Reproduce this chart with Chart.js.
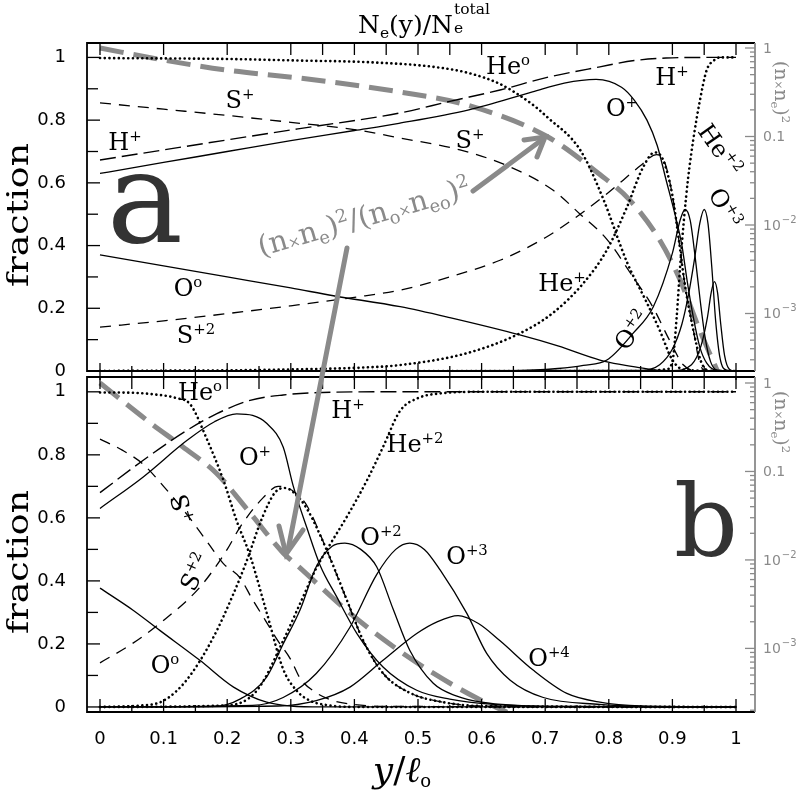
<!DOCTYPE html>
<html><head><meta charset="utf-8">
<script src="https://cdn.jsdelivr.net/npm/chart.js@4.4.1/dist/chart.umd.min.js"></script>
<style>
html,body{margin:0;padding:0;background:#fff}
body{width:797px;height:797px;position:relative;overflow:hidden}
canvas{position:absolute;left:0}
.t{position:absolute;white-space:nowrap;line-height:1;font-family:'DejaVu Serif',serif;color:#000;transform-origin:50% 50%}
.lab{font-size:24px}
.t sup{font-size:.62em;vertical-align:.6em;line-height:0}
.t sub{font-size:.62em;vertical-align:-.3em;line-height:0}
.gray{color:#8a8a8a}
</style>
</head><body>
<canvas id="ca" width="797" height="410" style="top:0"></canvas>
<canvas id="cb" width="797" height="467" style="top:330px"></canvas>
<svg id="ov" width="797" height="797" style="position:absolute;left:0;top:0" xmlns="http://www.w3.org/2000/svg">
  <g stroke="#8a8a8a" stroke-width="5" stroke-linecap="round" fill="none">
    <line x1="473" y1="191" x2="543" y2="139"/>
    <polyline points="524,140 545,137 537,157"/>
    <line x1="347" y1="248" x2="288" y2="550"/>
    <polyline points="279,526 286,554 303,530"/>
  </g>
</svg>
<script>
// ---------- axis tick labels ----------
const xTickLabels   = ['0','0.1','0.2','0.3','0.4','0.5','0.6','0.7','0.8','0.9','1'];
const fracTickLabels = ['0','0.2','0.4','0.6','0.8','1'];
const logTickLabels  = ['10^\u22123','10^\u22122','0.1','1'];
// unlabelled ticks of the top N_e(y)/N_e^total axis of panel a (in y/l0 units)
const aTopTickVals = [0,0.1,0.2,0.3,0.35,0.4,0.45,0.5,0.55,0.6,0.7,0.75,0.8,0.9,0.95,1];

// ---------- panel a (fractions vs y/l0) ----------
const aHe0X = [0,0.2,0.314,0.42,0.524,0.58,0.629,0.68,0.703,0.755,0.79,0.829,0.86,0.88,0.9,0.92,1];
const aHe0Y = [0.998,0.995,0.99,0.985,0.97,0.95,0.915,0.85,0.81,0.705,0.555,0.345,0.217,0.13,0.035,0.003,0];
const aHe1X = [0,0.1,0.2,0.3,0.4,0.472,0.577,0.66,0.712,0.76,0.797,0.828,0.854,0.872,0.885,0.9,0.91,0.92,0.933,0.945,0.96,1];
const aHe1Y = [0,0.001,0.002,0.005,0.01,0.019,0.057,0.12,0.185,0.28,0.386,0.52,0.65,0.697,0.675,0.56,0.42,0.27,0.13,0.03,0,0];
const aHe2X = [0,0.85,0.89,0.9,0.907,0.912,0.918,0.925,0.933,0.943,0.954,0.965,0.975,1];
const aHe2Y = [0,0,0.005,0.03,0.18,0.33,0.48,0.62,0.74,0.86,0.96,0.99,1,1];
const aHpX  = [0,0.1,0.2,0.314,0.472,0.55,0.629,0.7,0.786,0.84,0.89,0.95,1];
const aHpY  = [0.673,0.705,0.737,0.773,0.823,0.86,0.896,0.935,0.97,0.99,0.998,1,1];
const aSpX  = [0,0.1,0.2,0.3,0.4,0.472,0.566,0.64,0.712,0.755,0.797,0.838,0.869,0.895,0.917,0.94,1];
const aSpY  = [0.855,0.835,0.815,0.793,0.77,0.743,0.705,0.655,0.577,0.5,0.42,0.3,0.205,0.1,0.02,0,0];
const aS2X  = [0,0.1,0.2,0.3,0.4,0.472,0.55,0.63,0.7,0.755,0.8,0.85,0.875,0.888,0.9,0.91,0.92,0.933,0.943,0.955,1];
const aS2Y  = [0.14,0.16,0.183,0.208,0.235,0.258,0.3,0.354,0.425,0.5,0.57,0.655,0.69,0.665,0.56,0.42,0.27,0.13,0.025,0,0];
const aO0X  = [0,0.1,0.2,0.3,0.367,0.472,0.55,0.66,0.72,0.786,0.82,0.85,0.88,1];
const aO0Y  = [0.37,0.335,0.3,0.265,0.24,0.205,0.17,0.115,0.08,0.035,0.02,0.01,0.002,0];
const aOpX  = [0,0.1,0.2,0.3,0.4,0.47,0.58,0.68,0.73,0.78,0.82,0.84,0.86,0.876,0.89,0.904,0.915,0.923,0.933,0.943,0.954,0.97,1];
const aOpY  = [0.63,0.665,0.7,0.735,0.767,0.79,0.833,0.89,0.918,0.93,0.905,0.864,0.8,0.72,0.61,0.5,0.4,0.29,0.17,0.077,0.025,0.002,0];
const aO2X  = [0,0.65,0.72,0.76,0.797,0.838,0.87,0.9,0.912,0.92,0.928,0.936,0.944,0.952,0.96,0.97,1];
const aO2Y  = [0,0.001,0.008,0.018,0.035,0.12,0.205,0.376,0.48,0.515,0.48,0.36,0.22,0.1,0.03,0.003,0];
const aO3X  = [0,0.85,0.88,0.9,0.915,0.925,0.935,0.943,0.95,0.956,0.962,0.968,0.975,0.985,1];
const aO3Y  = [0,0.002,0.02,0.07,0.15,0.24,0.36,0.47,0.515,0.47,0.33,0.16,0.04,0.003,0];
const aO4X  = [0,0.9,0.93,0.945,0.955,0.961,0.966,0.971,0.976,0.982,0.99,1];
const aO4Y  = [0,0.001,0.02,0.08,0.17,0.25,0.285,0.25,0.15,0.05,0.005,0];
// (n_x n_e)^2/(n_o n_eo)^2, right log axis
const aRatX = [0,0.1,0.2,0.314,0.472,0.577,0.703,0.786,0.833,0.88,0.912,0.943,0.975];
const aRatY = [1,0.731,0.562,0.457,0.318,0.227,0.1,0.0372,0.0191,0.00676,0.0024,0.000646,0.000191];

// ---------- panel b ----------
const bHe0X = [0,0.05,0.08,0.12,0.142,0.168,0.194,0.215,0.236,0.262,0.288,0.31,0.33,0.36,0.4,1];
const bHe0Y = [0.998,0.997,0.993,0.98,0.96,0.85,0.72,0.59,0.48,0.3,0.12,0.05,0.02,0.005,0,0];
const bHe1X = [0,0.06,0.1,0.136,0.178,0.21,0.23,0.255,0.275,0.29,0.305,0.325,0.356,0.388,0.414,0.445,0.487,0.54,0.6,1];
const bHe1Y = [0,0.004,0.02,0.085,0.22,0.36,0.46,0.6,0.68,0.695,0.68,0.63,0.5,0.34,0.21,0.107,0.045,0.015,0.003,0];
const bHe2X = [0,0.2,0.247,0.288,0.315,0.34,0.36,0.39,0.42,0.445,0.472,0.5,0.535,0.6,1];
const bHe2Y = [0,0.005,0.053,0.21,0.33,0.44,0.51,0.61,0.72,0.825,0.94,0.98,0.995,1,1];
const bHpX  = [0,0.068,0.137,0.183,0.236,0.288,0.35,0.45,1];
const bHpY  = [0.68,0.783,0.878,0.93,0.973,0.99,0.998,1,1];
const bSpX  = [0,0.035,0.068,0.1,0.137,0.17,0.194,0.22,0.24,0.26,0.278,0.3,0.315,0.34,0.367,0.4,0.45,1];
const bSpY  = [0.85,0.815,0.77,0.7,0.61,0.52,0.455,0.41,0.34,0.275,0.215,0.15,0.09,0.045,0.02,0.008,0.002,0];
const bS2X  = [0,0.05,0.094,0.157,0.2,0.22,0.257,0.28,0.295,0.31,0.325,0.356,0.388,0.414,0.445,0.487,0.54,0.6,1];
const bS2Y  = [0.14,0.2,0.265,0.38,0.5,0.57,0.665,0.7,0.695,0.675,0.64,0.5,0.34,0.21,0.107,0.045,0.015,0.003,0];
const bO0X  = [0,0.052,0.094,0.157,0.21,0.262,0.3,0.35,1];
const bO0Y  = [0.377,0.307,0.243,0.148,0.063,0.015,0.003,0,0];
const bOpX  = [0,0.068,0.137,0.18,0.215,0.24,0.262,0.288,0.304,0.325,0.346,0.372,0.404,0.445,0.498,0.55,0.62,0.7,1];
const bOpY  = [0.63,0.73,0.846,0.905,0.93,0.925,0.9,0.825,0.7,0.57,0.45,0.35,0.233,0.127,0.053,0.025,0.008,0.002,0];
const bO2X  = [0,0.18,0.22,0.262,0.288,0.315,0.34,0.365,0.385,0.41,0.435,0.461,0.487,0.524,0.56,0.6,0.7,1];
const bO2Y  = [0,0.002,0.025,0.095,0.2,0.31,0.445,0.51,0.52,0.5,0.445,0.31,0.18,0.075,0.035,0.015,0.002,0];
const bO3X  = [0,0.24,0.288,0.34,0.393,0.435,0.465,0.487,0.51,0.535,0.577,0.608,0.645,0.697,0.786,0.85,1];
const bO3Y  = [0,0.005,0.03,0.106,0.253,0.42,0.5,0.52,0.5,0.434,0.296,0.17,0.085,0.03,0.008,0.002,0];
const bO4X  = [0,0.28,0.34,0.393,0.445,0.498,0.53,0.563,0.595,0.629,0.681,0.734,0.786,0.85,1];
const bO4Y  = [0,0.003,0.02,0.063,0.148,0.233,0.27,0.29,0.265,0.21,0.117,0.043,0.015,0.003,0];
const bRatX = [0,0.079,0.13,0.183,0.236,0.288,0.31,0.393,0.461,0.524,0.59,0.64];
const bRatY = [1,0.355,0.19,0.0955,0.0339,0.012,0.0087,0.0025,0.00105,0.000525,0.00028,0.00019];

// ---------- styles ----------
const SOLID = {borderColor:'#000', borderWidth:1.3};
const HDASH = {borderColor:'#000', borderWidth:1.4, borderDash:[16,6]};
const SDASH = {borderColor:'#000', borderWidth:1.3, borderDash:[11,8]};
const DOT   = {borderColor:'#000', borderWidth:2.6, borderDash:[0.1,4.6], borderCapStyle:'round'};
const GRAY  = {borderColor:'#8a8a8a', borderWidth:5, borderDash:[24,10]};

const pts = (xs, ys) => xs.map((x, i) => ({x, y: ys[i]}));
const ds = (xs, ys, st, axis) => Object.assign({data: pts(xs, ys), yAxisID: axis || 'y', pointRadius: 0,
  fill: false, cubicInterpolationMode: 'monotone'}, st);

const XMIN = -13/636, XMAX = 1 + 19/636;
const xTickVals = []; for (let i = 0; i <= 20; i++) xTickVals.push(i / 20);
const yTickVals = []; for (let i = 0; i <= 10; i++) yTickVals.push(i / 10);
function logTickVals(min, max) {
  const v = [];
  for (let e = -4; e <= 0; e++) for (let m = 1; m <= 9; m++) {
    const val = m * Math.pow(10, e);
    if (val >= min * 0.999 && val <= max * 1.001) v.push(val);
  }
  return v;
}
const isDecade = v => Math.abs(Math.log10(v) - Math.round(Math.log10(v))) < 1e-6;

const framePlugin = {
  id: 'frame',
  afterDatasetsDraw(chart, args, o) {
    const c = chart.ctx, a = chart.chartArea, S = chart.scales;
    c.save();
    c.lineWidth = 1.3; c.strokeStyle = '#000';
    const vline = (x, y1, y2) => { c.beginPath(); c.moveTo(x, y1); c.lineTo(x, y2); c.stroke(); };
    const hline = (y, x1, x2) => { c.beginPath(); c.moveTo(x1, y); c.lineTo(x2, y); c.stroke(); };
    S.x.ticks.forEach(t => {
      const p = S.x.getPixelForValue(t.value);
      const maj = Math.abs(t.value * 10 - Math.round(t.value * 10)) < 1e-6;
      if (o.bottomTicks === 'cross') vline(p, a.bottom - (maj ? 8 : 5), a.bottom + (maj ? 9 : 6));
      else vline(p, a.bottom - (maj ? 13 : 7), a.bottom);
    });
    (o.topTicks || xTickVals).forEach(v => {
      const p = S.xt.getPixelForValue(v);
      vline(p, a.top, a.top + 12);
    });
    S.y.ticks.forEach(t => {
      if (t.value > S.y.max) return;
      const p = S.y.getPixelForValue(t.value);
      const maj = Math.round(t.value * 10) % 2 === 0;
      hline(p, a.left, a.left + (maj ? 13 : 11));
    });
    // right log axis: ticks and labels
    c.strokeStyle = '#8a8a8a'; c.fillStyle = '#8a8a8a';
    c.textBaseline = 'middle'; c.textAlign = 'left';
    S.y2.ticks.forEach(t => {
      const p = S.y2.getPixelForValue(t.value);
      if (p < a.top - 0.5 || p > a.bottom + 0.5) return;
      const dec = isDecade(t.value);
      hline(p, a.right - (dec ? 10 : 5), a.right);
      if (dec) {
        const lab = logTickLabels[Math.round(Math.log10(t.value)) + 3];
        const [base, ex] = lab.split('^');
        c.font = '14px "DejaVu Sans"';
        c.fillText(base, a.right + 8, p + 1);
        if (ex) {
          const w = c.measureText(base).width;
          c.font = '10px "DejaVu Sans"';
          c.fillText(ex, a.right + 9 + w, p - 5);
        }
      }
    });
    c.lineWidth = 1.8;
    c.strokeStyle = '#000';
    c.beginPath(); c.moveTo(a.right, a.top); c.lineTo(a.left, a.top); c.lineTo(a.left, a.bottom); c.lineTo(a.right, a.bottom); c.stroke();
    c.strokeStyle = '#8a8a8a';
    vline(a.right, a.top, a.bottom);
    c.restore();
  }
};

function makeChart(id, datasets, o) {
  const logMin = o.logMin, logMax = o.logMax;
  return new Chart(document.getElementById(id), {
    type: 'line',
    data: {datasets},
    options: {
      responsive: false, animation: false, devicePixelRatio: 1,
      layout: {padding: 0},
      plugins: {legend: {display: false}, tooltip: {enabled: false}, frame: o.frame},
      scales: {
        x: {type: 'linear', position: 'bottom', min: XMIN, max: XMAX,
            afterBuildTicks: s => { s.ticks = xTickVals.map(v => ({value: v})); },
            ticks: {display: o.xLabels, autoSkip: false, maxRotation: 0, padding: 9, color: '#000',
                    font: {family: 'DejaVu Sans', size: 18},
                    callback: v => { const i = Math.round(v * 10); return Math.abs(v * 10 - i) < 1e-6 ? xTickLabels[i] : ''; }},
            grid: {display: false}, border: {display: false},
            afterFit: s => { s.height = o.xH; }},
        xt: {type: 'linear', position: 'top', min: XMIN, max: XMAX,
             ticks: {display: false}, grid: {display: false}, border: {display: false},
             afterFit: s => { s.height = o.topH; }},
        y: {type: 'linear', position: 'left', min: o.yMin, max: o.yMax,
            afterBuildTicks: s => { s.ticks = yTickVals.map(v => ({value: v})); },
            ticks: {autoSkip: false, padding: 13, color: '#000', font: {family: 'DejaVu Sans', size: 18},
                    callback: v => { const i = Math.round(v * 10); return i % 2 === 0 ? fracTickLabels[i / 2] : ''; }},
            grid: {display: false}, border: {display: false},
            afterFit: s => { s.width = 87; }},
        y2: {type: 'logarithmic', position: 'right', min: logMin, max: logMax,
             afterBuildTicks: s => { s.ticks = logTickVals(logMin, logMax).map(v => ({value: v})); },
             ticks: {display: false, autoSkip: false},
             grid: {display: false}, border: {display: false},
             afterFit: s => { s.width = 42; }}
      }
    },
    plugins: [framePlugin]
  });
}

const dsA = [
  ds(aHe0X, aHe0Y, DOT), ds(aHe1X, aHe1Y, DOT), ds(aHe2X, aHe2Y, DOT),
  ds(aHpX, aHpY, HDASH), ds(aSpX, aSpY, SDASH), ds(aS2X, aS2Y, SDASH),
  ds(aO0X, aO0Y, SOLID), ds(aOpX, aOpY, SOLID), ds(aO2X, aO2Y, SOLID), ds(aO3X, aO3Y, SOLID), ds(aO4X, aO4Y, SOLID),
  ds(aRatX, aRatY, GRAY, 'y2')
];
const dsB = [
  ds(bHe0X, bHe0Y, DOT), ds(bHe1X, bHe1Y, DOT), ds(bHe2X, bHe2Y, DOT),
  ds(bHpX, bHpY, HDASH), ds(bSpX, bSpY, SDASH), ds(bS2X, bS2Y, SDASH),
  ds(bO0X, bO0Y, SOLID), ds(bOpX, bOpY, SOLID), ds(bO2X, bO2Y, SOLID), ds(bO3X, bO3Y, SOLID), ds(bO4X, bO4Y, SOLID),
  ds(bRatX, bRatY, GRAY, 'y2')
];

makeChart('ca', dsA, {xLabels: false, xH: 410 - 371, topH: 43, yMin: 0, yMax: 1.046,
  logMin: 2.24e-4, logMax: 1.139, frame: {bottomTicks: 'cross', topTicks: aTopTickVals}});
makeChart('cb', dsB, {xLabels: true, xH: 467 - 382, topH: 47, yMin: -0.016, yMax: 1.047,
  logMin: 1.91e-4, logMax: 1.169, frame: {bottomTicks: 'in'}});
</script>

<!-- texts -->
<div class="t" style="left:358px;top:8px;font-size:25px">N<sub>e</sub>(y)/N<span style="position:relative;display:inline-block;width:58px;height:1em"><span style="position:absolute;left:1px;top:-6px;font-size:.62em">total</span><span style="position:absolute;left:1px;top:13px;font-size:.62em">e</span></span></div>

<div class="t" style="left:18px;top:215px;font-size:29px;transform:translate(-50%,-50%) rotate(-90deg) scaleX(1.25)">fraction</div>
<div class="t" style="left:18px;top:562px;font-size:29px;transform:translate(-50%,-50%) rotate(-90deg) scaleX(1.25)">fraction</div>

<div class="t gray" style="left:781px;top:92px;font-size:19px;transform:translate(-50%,-50%) rotate(90deg)">(n<span style="font-size:.55em">×</span>n<sub>e</sub>)<sup>2</sup></div>
<div class="t gray" style="left:781px;top:422px;font-size:19px;transform:translate(-50%,-50%) rotate(90deg)">(n<span style="font-size:.55em">×</span>n<sub>e</sub>)<sup>2</sup></div>

<div class="t" style="left:402px;top:770px;font-size:36px;transform:translate(-50%,-50%)"><i>y</i>/<i>ℓ</i><sub style="font-size:.5em">o</sub></div>

<div class="t" style="left:145px;top:198px;font-size:128px;color:#333;transform:translate(-50%,-50%)">a</div>
<div class="t" style="left:706px;top:522px;font-size:100px;color:#333;transform:translate(-50%,-50%)">b</div>

<div class="t gray" style="left:364px;top:217px;font-size:29px;transform:translate(-50%,-50%) rotate(-16deg)">(n<span style="font-size:.5em">×</span>n<sub>e</sub>)<sup>2</sup>/(n<sub>o</sub><span style="font-size:.5em">×</span>n<sub>eo</sub>)<sup>2</sup></div>

<!-- panel a labels -->
<div class="t lab" style="left:508px;top:66px;transform:translate(-50%,-50%)">He<sup>o</sup></div>
<div class="t lab" style="left:672px;top:77px;transform:translate(-50%,-50%)">H<sup>+</sup></div>
<div class="t lab" style="left:240px;top:100px;transform:translate(-50%,-50%)">S<sup>+</sup></div>
<div class="t lab" style="left:125px;top:142px;transform:translate(-50%,-50%)">H<sup>+</sup></div>
<div class="t lab" style="left:622px;top:108px;transform:translate(-50%,-50%)">O<sup>+</sup></div>
<div class="t lab" style="left:470px;top:140px;transform:translate(-50%,-50%)">S<sup>+</sup></div>
<div class="t lab" style="left:720px;top:150px;transform:translate(-50%,-50%) rotate(55deg)">He<sup>+2</sup></div>
<div class="t lab" style="left:188px;top:288px;transform:translate(-50%,-50%)">O<sup>o</sup></div>
<div class="t lab" style="left:196px;top:335px;transform:translate(-50%,-50%)">S<sup>+2</sup></div>
<div class="t lab" style="left:562px;top:283px;transform:translate(-50%,-50%)">He<sup>+</sup></div>
<div class="t lab" style="left:632px;top:330px;transform:translate(-50%,-50%) rotate(-55deg)">O<sup>+2</sup></div>
<div class="t lab" style="left:725px;top:208px;transform:translate(-50%,-50%) rotate(60deg)">O<sup>+3</sup></div>

<!-- panel b labels -->
<div class="t lab" style="left:200px;top:392px;transform:translate(-50%,-50%)">He<sup>o</sup></div>
<div class="t lab" style="left:348px;top:410px;transform:translate(-50%,-50%)">H<sup>+</sup></div>
<div class="t lab" style="left:415px;top:444px;transform:translate(-50%,-50%)">He<sup>+2</sup></div>
<div class="t lab" style="left:255px;top:457px;transform:translate(-50%,-50%)">O<sup>+</sup></div>
<div class="t lab" style="left:181px;top:509px;transform:translate(-50%,-50%) rotate(75deg)">S<sup>+</sup></div>
<div class="t lab" style="left:195px;top:572px;transform:translate(-50%,-50%) rotate(-65deg)">S<sup>+2</sup></div>
<div class="t lab" style="left:381px;top:537px;transform:translate(-50%,-50%)">O<sup>+2</sup></div>
<div class="t lab" style="left:467px;top:556px;transform:translate(-50%,-50%)">O<sup>+3</sup></div>
<div class="t lab" style="left:549px;top:658px;transform:translate(-50%,-50%)">O<sup>+4</sup></div>
<div class="t lab" style="left:165px;top:665px;transform:translate(-50%,-50%)">O<sup>o</sup></div>
</body></html>
